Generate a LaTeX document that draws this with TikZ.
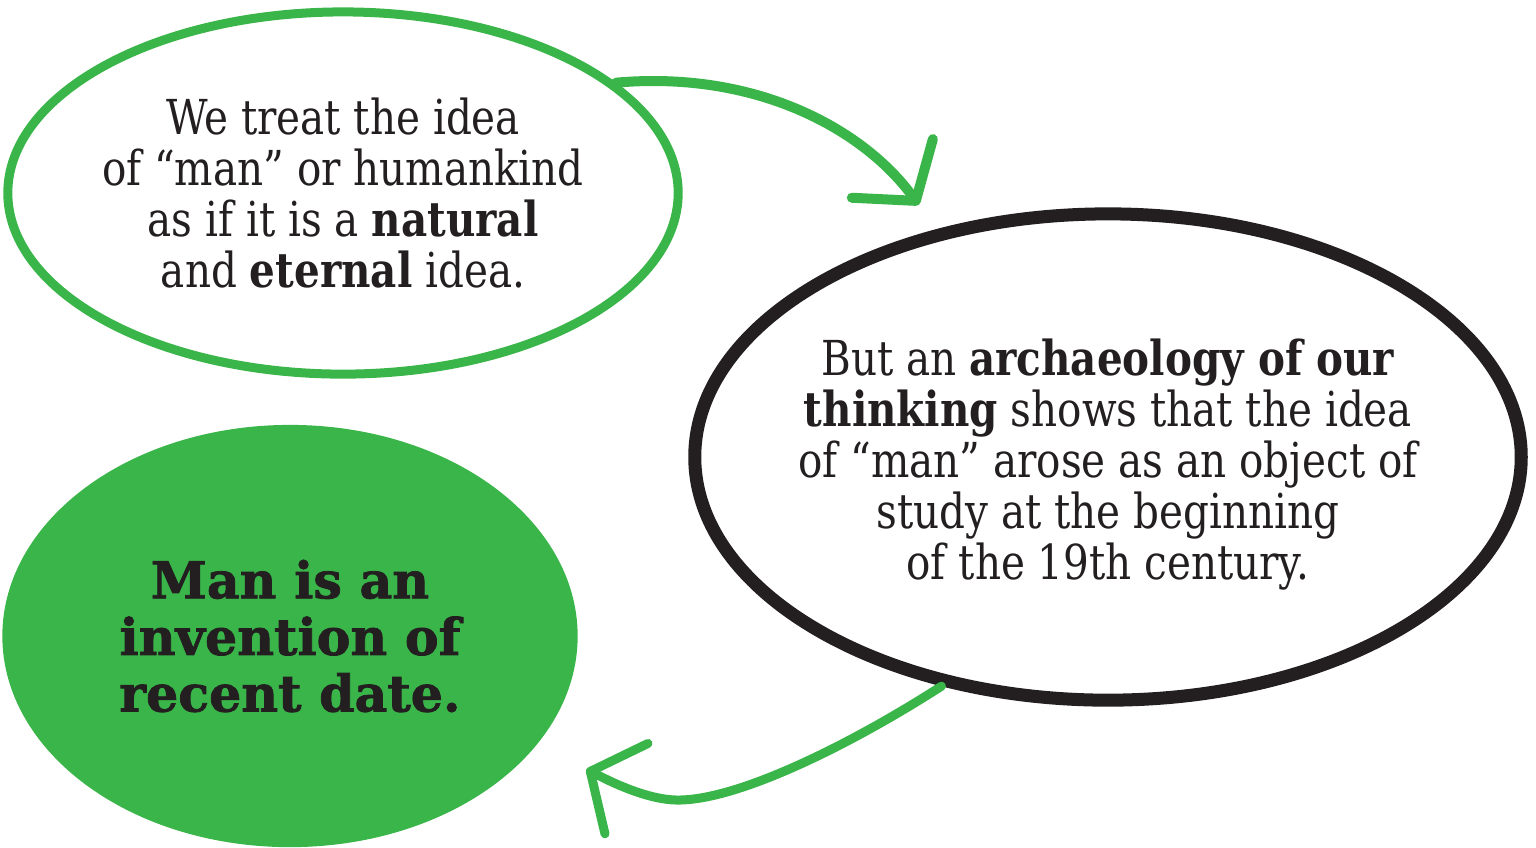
\documentclass[tikz,border=0pt]{standalone}
\usepackage{fontspec}
\setmainfont{DejaVu Serif}[FakeStretch=0.84]
\newfontfamily\claimfont{DejaVu Serif}[BoldFeatures={FakeBold=1.5}]
\usetikzlibrary{arrows.meta,shapes.geometric}
\definecolor{leafgreen}{HTML}{3AB54A}
\definecolor{inkblack}{HTML}{231F20}
\tikzset{
  bubble/.style={ellipse, inner xsep=-5mm, inner ysep=0pt, align=center, text=inkblack},
  greenring/.style={bubble, draw=leafgreen, line width=0.9mm, minimum width=6.7cm, minimum height=3.62cm},
  blackring/.style={bubble, draw=inkblack, line width=1.3mm, minimum width=8.26cm, minimum height=4.86cm},
  greenblob/.style={bubble, fill=leafgreen, minimum width=5.75cm, minimum height=4.22cm},
  bodytext/.style={font=\fontsize{13.7pt}{14.5pt}\selectfont},
  claimtext/.style={font=\claimfont\fontsize{14.4pt}{16.1pt}\selectfont\bfseries},
  sweep/.style={draw=leafgreen, line width=1mm, line cap=round,
    -{Straight Barb[length=4mm, width=10mm, round]}},
}
\begin{document}
\begin{tikzpicture}[x=0.01cm, y=-0.01cm]
\useasboundingbox (0,0) rectangle (1536,847);

% --- the three bubbles ---
\node[greenring, bodytext] (idea) at (343,193)
{We treat the idea\\ of “man” or humankind\\ as if it is a \textbf{natural}\\ and \textbf{eternal} idea.};

\node[blackring, bodytext] (study) at (1108,457)
{\rule{0pt}{5.1mm}But an \textbf{archaeology of our}\\ \textbf{thinking} shows that the idea\\ of “man” arose as an object of\\ study at the beginning\\ of the 19th century.};

\node[greenblob, claimtext] (claim) at (290,636)
{Man is an\\ invention of\\ recent date.};

% --- brush strokes between them ---
\draw[sweep, shorten >=3mm] (idea.22) .. controls (760,70) and (866,132) .. (study.127);

\coordinate (dip) at (680,800); % lowest point of the return stroke
\draw[sweep, line width=0.9mm, shorten >=5.5mm] (study.234) .. controls (850,745) and (740,799) .. (dip)
  .. controls (645,801) and (600,776) .. (claim.-24);

\end{tikzpicture}
\end{document}
